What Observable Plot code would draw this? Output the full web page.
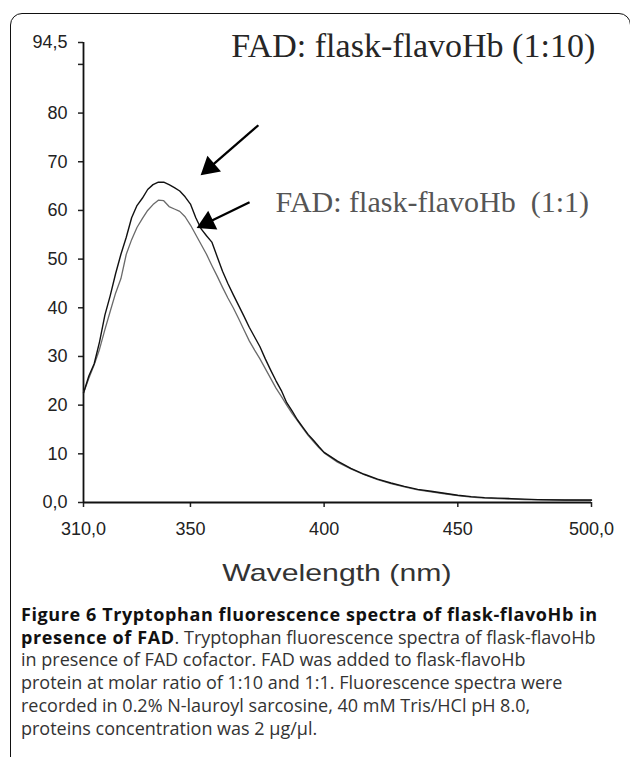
<!DOCTYPE html>
<html><head><meta charset="utf-8">
<script src="https://cdn.jsdelivr.net/npm/d3@7"></script>
<script src="https://cdn.jsdelivr.net/npm/@observablehq/plot@0.6"></script>
<style>
html,body{margin:0;padding:0;background:#fff;width:630px;height:757px;overflow:hidden;position:relative;}
#frame{position:absolute;left:10px;top:13px;width:621px;height:800px;border:1.5px solid #111;border-radius:12px;box-sizing:border-box;}
#chart{position:absolute;left:0;top:0;}
#xlabel{position:absolute;left:83px;width:508px;top:558px;text-align:center;font-family:"Liberation Sans",Arial,sans-serif;font-size:24px;color:#333;line-height:30px;}
#xlabel span{display:inline-block;transform:scaleX(1.26);transform-origin:center;}
#caption{position:absolute;left:21px;top:603px;font-family:"Open Sans",sans-serif;font-size:18px;line-height:22.7px;color:#333;white-space:nowrap;}
#caption b{color:#111;letter-spacing:0.6px;}
</style></head><body>
<div id="frame"></div>
<div id="chart"></div>
<div id="xlabel"><span>Wavelength (nm)</span></div>
<div id="caption"></div>
<script>
const wavelengths = [310,312,314,316,318,320,322,324,326,328,330,332,334,336,338,340,342,344,346,348,350,352,354,356,358,360,362,364,366,368,370,372,374,376,378,380,382,384,386,388,390,392,394,396,398,400,405,410,415,420,425,430,435,440,445,450,455,460,465,470,475,480,490,500];
const fad110 = [22.5,26,28.5,33,38.5,42.5,47,51,54.5,58.5,61,62.5,64.3,65.3,65.8,65.8,65.3,64.7,64.0,62.8,61.3,58.5,56.2,54.8,53.5,50.5,47.5,45,42.7,40.5,38.3,36,34,32,29.5,27.2,25,23,20.5,18.8,17,15.5,14,12.8,11.5,10.3,8.5,7,5.8,4.8,4.0,3.3,2.7,2.3,1.9,1.5,1.2,1.0,0.9,0.8,0.7,0.6,0.5,0.5];
const fad11 = [22.5,25.5,28.3,31.5,35.5,39.3,43,46,51,54,56.5,58.3,60,61.2,62.1,62,60.8,60.3,59.8,58.7,57,55,53,51,48.7,46.5,44.2,42,40,37.8,35.5,33.2,31.3,29.5,27.5,25.5,23.5,21.8,20,18.3,16.8,15.3,13.8,12.5,11.3,10.2,8.3,6.9,5.7,4.7,3.9,3.2,2.6,2.2,1.8,1.4,1.1,0.9,0.8,0.7,0.6,0.55,0.5,0.45];
const xTicks = [310,350,400,450,500];
const xTickLabels = ["310,0","350","400","450","500,0"];
const yTicks = [0,10,20,30,40,50,60,70,80,90,94.5];
const yTickLabels = ["0,0","10","20","30","40","50","60","70","80","","94,5"];
const labelTexts = ["FAD: flask-flavoHb (1:10)","FAD: flask-flavoHb  (1:1)"];
const labelX = [365.3, 381.8];
const labelY = [91.6, 59.6];
const labelSizes = [34, 30];
const labelColors = ["#262626","#555555"];
const arrowFrom = [[375.4,77.5],[372.1,61.7]];
const arrowTo = [[353.8,67.2],[352.3,56.4]];
const captionLines = [
 "<b>Figure 6 Tryptophan fluorescence spectra of flask-flavoHb in</b>",
 "<b>presence of FAD</b>. Tryptophan fluorescence spectra of flask-flavoHb",
 "in presence of FAD cofactor. FAD was added to flask-flavoHb",
 "protein at molar ratio of 1:10 and 1:1. Fluorescence spectra were",
 "recorded in 0.2% N-lauroyl sarcosine, 40 mM Tris/HCl pH 8.0,",
 "proteins concentration was 2 μg/μl."
];

const W = 630, H = 545, ML = 83, MR = 39, MT = 42, MB = 43;
const kx = (W-ML-MR)/(500-310), ky = (H-MT-MB)/94.5;
const data = wavelengths.map((w,i)=>({w, a: fad110[i], b: fad11[i]}));
const labels = labelTexts.map((t,i)=>({t, x: labelX[i], y: labelY[i], c: labelColors[i]}));
const arrows = arrowFrom.map((f,i)=>{
  const [x1,y1] = f, [x2,y2] = arrowTo[i];
  const dxp = (x2-x1)*kx, dyp = -(y2-y1)*ky;
  const len = Math.hypot(dxp,dyp), ux = dxp/len, uy = dyp/len;
  const back = 12;
  return {x1,y1,x2,y2, cx: x2 - ux*back/kx, cy: y2 + uy*back/ky,
    ex: x2 - ux*16/kx, ey: y2 + uy*16/ky,
    rot: Math.atan2(dxp,-dyp)*180/Math.PI};
});

const plot = Plot.plot({
  width: W, height: H, marginLeft: ML, marginRight: MR, marginTop: MT, marginBottom: MB,
  x: {domain: [310,500]}, y: {domain: [0,94.5]},
  style: {fontFamily: '"Liberation Sans", Arial, sans-serif', fontSize: "18px", color: "#222", background: "transparent"},
  marks: [
    Plot.axisX({ticks: xTicks, tickFormat: d => xTickLabels[xTicks.indexOf(d)], tickSize: 5, tickPadding: 15, label: null, strokeWidth: 1.5, fontSize: 18}),
    Plot.axisY({ticks: yTicks, tickFormat: d => yTickLabels[yTicks.indexOf(d)], tickSize: 5, tickPadding: 11, label: null, strokeWidth: 1.5, fontSize: 18}),
    Plot.ruleY([0], {stroke: "#111", strokeWidth: 1.8}),
    Plot.ruleX([310], {y1: 0, y2: 94.5, stroke: "#111", strokeWidth: 1.8}),
    Plot.line(data, {x: "w", y: "b", stroke: "#6a6a6a", strokeWidth: 1.3}),
    Plot.line(data, {x: "w", y: "a", stroke: "#111", strokeWidth: 1.4}),
    Plot.link(arrows, {x1: "x1", y1: "y1", x2: "ex", y2: "ey", stroke: "#000", strokeWidth: 2.3}),
    Plot.dot(arrows, {x: "cx", y: "cy", symbol: "triangle", r: 7.7, fill: "#000", stroke: "none", rotate: "rot"}),
    Plot.text(labels.slice(0,1), {x: "x", y: "y", text: "t", textAnchor: "start", lineAnchor: "bottom", fill: "c", fontFamily: '"Liberation Serif", "Times New Roman", serif', fontSize: labelSizes[0]}),
    Plot.text(labels.slice(1), {x: "x", y: "y", text: "t", textAnchor: "start", lineAnchor: "bottom", fill: "c", fontFamily: '"Liberation Serif", "Times New Roman", serif', fontSize: labelSizes[1]})
  ]
});
document.getElementById("chart").appendChild(plot);
document.getElementById("caption").innerHTML = captionLines.join("<br>");
</script>
</body></html>
